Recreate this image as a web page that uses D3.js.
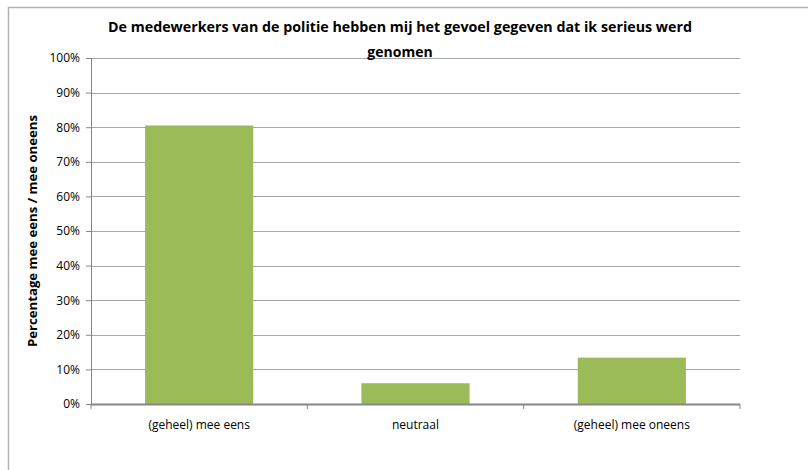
<!DOCTYPE html>
<html>
<head>
<meta charset="utf-8">
<script src="https://cdn.jsdelivr.net/npm/d3@7"></script>
<style>
  body { margin: 0; background: #fff; }
  text { font-family: "Open Sans", "DejaVu Sans", sans-serif; }
</style>
</head>
<body>
<div id="chart"></div>
<script>
// data
var categories = ['(geheel) mee eens', 'neutraal', '(geheel) mee oneens']
var values = [0.805, 0.06, 0.134]
var yTicks = [0, 0.1, 0.2, 0.3, 0.4, 0.5, 0.6, 0.7, 0.8, 0.9, 1]
var titleLines = ['De medewerkers van de politie hebben mij het gevoel gegeven dat ik serieus werd', 'genomen']
var yLabel = 'Percentage mee eens / mee oneens'

var W = 808, H = 470
var margin = { top: 58, right: 68, bottom: 66, left: 91 }
var w = W - margin.left - margin.right
var h = H - margin.top - margin.bottom

var svg = d3.select('#chart').append('svg')
  .attr('width', W)
  .attr('height', H)

// outer chart frame (runs off the right and bottom)
svg.append('rect')
  .attr('x', 8.5).attr('y', 7.5)
  .attr('width', 820).attr('height', 480)
  .attr('fill', 'none')
  .attr('stroke', '#b3b3b3')
  .attr('stroke-width', 1.5)

var g = svg.append('g')
  .attr('transform', 'translate(' + margin.left + ',' + margin.top + ')')

var x = d3.scaleBand()
  .domain(categories)
  .range([0, w])
  .paddingInner(0.5)
  .paddingOuter(0.25)

var y = d3.scaleLinear()
  .domain([0, 1])
  .range([h, 0])

// grid lines
g.append('g')
  .selectAll('line')
  .data(yTicks.slice(1))
  .enter().append('line')
  .attr('x1', 0).attr('x2', w)
  .attr('y1', function(d) { return Math.round(y(d)) + 0.5 })
  .attr('y2', function(d) { return Math.round(y(d)) + 0.5 })
  .attr('stroke', '#a6a6a6')
  .attr('stroke-width', 1.2)

// bars
g.selectAll('.bar')
  .data(values)
  .enter().append('rect')
  .attr('class', 'bar')
  .attr('x', function(d, i) { return x(categories[i]) })
  .attr('width', x.bandwidth())
  .attr('y', function(d) { return y(d) })
  .attr('height', function(d) { return h - y(d) })
  .attr('fill', '#9bbb59')

// y axis
var yAxis = g.append('g')
  .call(d3.axisLeft(y).tickValues(yTicks).tickFormat(d3.format('.0%')).tickSize(5).tickPadding(6))
yAxis.selectAll('path, line').attr('stroke', '#868686')
yAxis.selectAll('text').attr('font-size', 12).attr('fill', '#000')

// x axis, ticks at band boundaries
var xAxis = g.append('g')
  .attr('transform', 'translate(0,' + h + ')')
xAxis.append('line')
  .attr('x1', 0).attr('x2', w)
  .attr('y1', 0.5).attr('y2', 0.5)
  .attr('stroke', '#868686')
  .attr('stroke-width', 2)
var step = w / categories.length
xAxis.selectAll('.tk')
  .data(d3.range(categories.length + 1))
  .enter().append('line')
  .attr('class', 'tk')
  .attr('x1', function(d) { return d * step }).attr('x2', function(d) { return d * step })
  .attr('y1', 0).attr('y2', 5)
  .attr('stroke', '#868686')
xAxis.selectAll('.lbl')
  .data(categories)
  .enter().append('text')
  .attr('class', 'lbl')
  .attr('x', function(d) { return x(d) + x.bandwidth() / 2 })
  .attr('y', 25)
  .attr('text-anchor', 'middle')
  .attr('font-size', 12)
  .text(function(d) { return d })

// title
svg.selectAll('.title')
  .data(titleLines)
  .enter().append('text')
  .attr('class', 'title')
  .attr('x', 400)
  .attr('y', function(d, i) { return 32 + i * 25 })
  .attr('text-anchor', 'middle')
  .attr('font-size', 14)
  .attr('font-weight', 'bold')
  .attr('textLength', function(d, i) { return i === 0 ? 584 : null })
  .attr('lengthAdjust', 'spacingAndGlyphs')
  .text(function(d) { return d })

// y label
svg.append('text')
  .attr('transform', 'translate(37,' + (margin.top + h / 2) + ') rotate(-90)')
  .attr('text-anchor', 'middle')
  .attr('font-size', 12)
  .attr('font-weight', 'bold')
  .attr('textLength', 232)
  .attr('lengthAdjust', 'spacingAndGlyphs')
  .text(yLabel)
</script>
</body>
</html>
